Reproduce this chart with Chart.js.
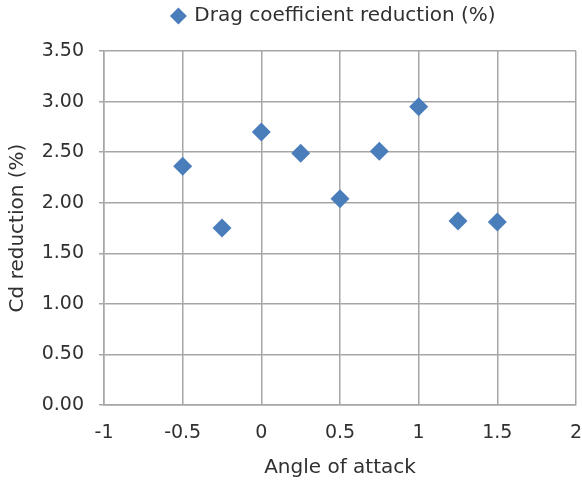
<!DOCTYPE html>
<html>
<head>
<meta charset="utf-8">
<script src="https://cdn.jsdelivr.net/npm/chart.js@4/dist/chart.umd.min.js"></script>
<style>
html,body{margin:0;padding:0;background:#fff;}
#wrap{width:582px;height:483px;position:relative;}
</style>
</head>
<body>
<div id="wrap"><canvas id="c" width="582" height="483"></canvas></div>
<script>
const angles = [-0.5, -0.25, 0, 0.25, 0.5, 0.75, 1, 1.25, 1.5];
const cdReduction = [2.36, 1.75, 2.70, 2.49, 2.04, 2.51, 2.95, 1.82, 1.81];
const seriesName = 'Drag coefficient reduction (%)';
const xTitle = 'Angle of attack';
const yTitle = 'Cd reduction (%)';

const FONT = "'DejaVu Sans', sans-serif";
const TXT = '#303030';
const GRID = '#a6a6a6';
const BLUE = '#4a7ebb';

const pad = {left: 6, right: 6, top: 0, bottom: 3};

const legendSpace = {
  id: 'legendSpace',
  beforeInit(chart) {
    const orig = chart.legend.fit;
    chart.legend.fit = function () { orig.call(this); this.height += 15; };
  },
  afterLayout(chart) {
    const a = chart.chartArea;
    chart.legend.left = a.left - 12;
    chart.legend.right = a.right;
    if (chart.legend.adjustHitBoxes) chart.legend.adjustHitBoxes();
  }
};

new Chart(document.getElementById('c'), {
  type: 'scatter',
  data: {
    datasets: [{
      label: seriesName,
      data: angles.map((a, i) => ({x: a, y: cdReduction[i]})),
      pointStyle: 'rectRot',
      pointRadius: 9.5,
      pointHoverRadius: 9.5,
      backgroundColor: BLUE,
      borderColor: BLUE,
      borderWidth: 0
    }]
  },
  plugins: [legendSpace],
  options: {
    responsive: false,
    animation: false,
    devicePixelRatio: 1,
    layout: {padding: pad, autoPadding: false},
    plugins: {
      tooltip: {enabled: false},
      legend: {
        position: 'top',
        labels: {
          usePointStyle: true,
          pointStyle: 'rectRot',
          boxWidth: 12,
          boxHeight: 12,
          color: TXT,
          font: {family: FONT, size: 20},
          padding: 6
        }
      }
    },
    scales: {
      x: {
        type: 'linear',
        min: -1, max: 2,
        ticks: {stepSize: 0.5, color: TXT, font: {family: FONT, size: 19}, padding: 17,
          callback: (v) => String(Number(v))},
        grid: {color: GRID, lineWidth: 1.5, drawTicks: false},
        border: {color: GRID, width: 1.5},
        title: {display: true, text: xTitle, color: TXT, font: {family: FONT, size: 20}, padding: {top: 4, bottom: 0}},
        afterFit: (s) => { s.height = 483 - 405 - pad.bottom; s.paddingRight = 0; s.paddingLeft = 0; }
      },
      y: {
        min: 0, max: 3.5,
        ticks: {stepSize: 0.5, color: TXT, font: {family: FONT, size: 19}, padding: 15,
          callback: (v) => Number(v).toFixed(2)},
        grid: {color: GRID, lineWidth: 1.5, drawTicks: true, tickLength: 5},
        border: {color: GRID, width: 1.5},
        title: {display: true, text: yTitle, color: TXT, font: {family: FONT, size: 20}, padding: {top: 0, bottom: 4}},
        afterFit: (s) => { s.width = 104 - pad.left; s.paddingTop = 0; s.paddingBottom = 0; }
      }
    }
  }
});
</script>
</body>
</html>
